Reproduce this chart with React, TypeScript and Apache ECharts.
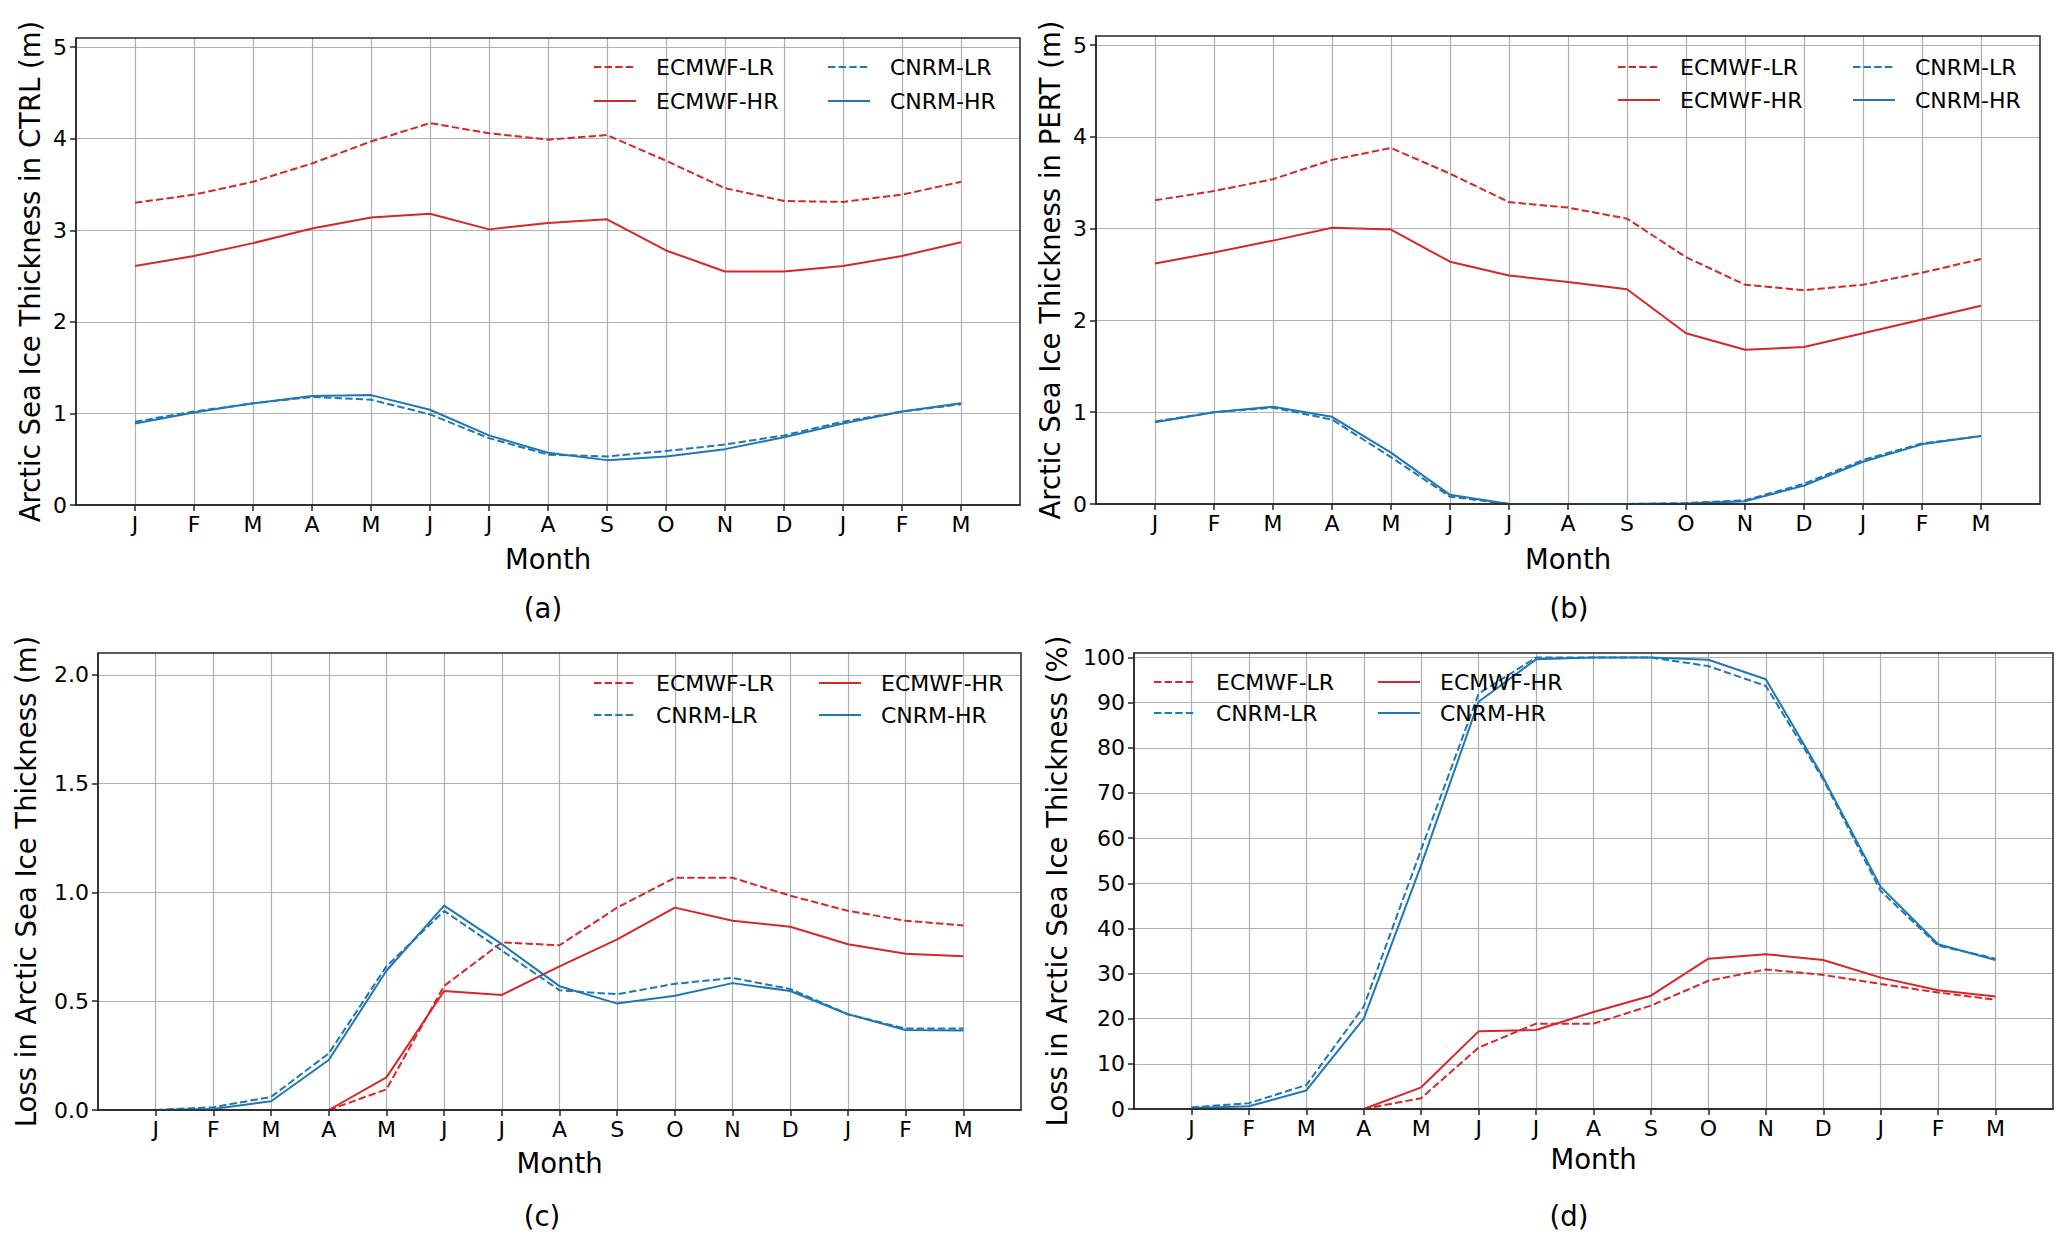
import React, { useEffect, useRef } from 'react';
import * as echarts from 'echarts';

// ---------------- data ----------------
const months = ['J', 'F', 'M', 'A', 'M', 'J', 'J', 'A', 'S', 'O', 'N', 'D', 'J', 'F', 'M'];

// (a) CTRL thickness (m)
const ctrlEcmwfLR = [3.30, 3.39, 3.53, 3.73, 3.97, 4.17, 4.06, 3.99, 4.04, 3.76, 3.46, 3.32, 3.31, 3.39, 3.53];
const ctrlEcmwfHR = [2.61, 2.72, 2.86, 3.02, 3.14, 3.18, 3.01, 3.08, 3.12, 2.78, 2.55, 2.55, 2.61, 2.72, 2.87];
const ctrlCnrmLR = [0.91, 1.02, 1.11, 1.18, 1.15, 0.99, 0.73, 0.55, 0.53, 0.59, 0.66, 0.76, 0.91, 1.02, 1.10];
const ctrlCnrmHR = [0.89, 1.01, 1.11, 1.19, 1.20, 1.04, 0.76, 0.57, 0.49, 0.53, 0.61, 0.74, 0.89, 1.02, 1.11];

// (b) PERT thickness (m)
const pertEcmwfLR = [3.31, 3.41, 3.54, 3.75, 3.88, 3.60, 3.29, 3.23, 3.11, 2.69, 2.39, 2.33, 2.39, 2.52, 2.67];
const pertEcmwfHR = [2.62, 2.74, 2.87, 3.01, 2.99, 2.64, 2.49, 2.42, 2.34, 1.86, 1.68, 1.71, 1.86, 2.01, 2.16];
const pertCnrmLR = [0.90, 1.00, 1.05, 0.92, 0.51, 0.08, 0, 0, 0, 0.01, 0.04, 0.22, 0.48, 0.66, 0.74];
const pertCnrmHR = [0.89, 1.00, 1.06, 0.95, 0.56, 0.10, 0, 0, 0, 0.005, 0.03, 0.20, 0.46, 0.65, 0.74];

// (c) loss in thickness (m)
const lossEcmwfLR = [null, null, null, 0, 0.095, 0.57, 0.77, 0.757, 0.93, 1.067, 1.067, 0.985, 0.915, 0.87, 0.848];
const lossEcmwfHR = [null, null, null, 0, 0.15, 0.547, 0.529, 0.66, 0.784, 0.93, 0.87, 0.842, 0.762, 0.718, 0.707];
const lossCnrmLR = [0, 0.013, 0.06, 0.26, 0.66, 0.915, 0.733, 0.55, 0.532, 0.58, 0.607, 0.556, 0.44, 0.374, 0.374];
const lossCnrmHR = [0, 0.005, 0.04, 0.23, 0.64, 0.939, 0.762, 0.569, 0.489, 0.525, 0.583, 0.547, 0.44, 0.368, 0.365];

// (d) loss in thickness (%)
const pctEcmwfLR = [null, null, null, 0, 2.4, 13.6, 18.9, 18.9, 22.9, 28.4, 30.9, 29.7, 27.7, 25.8, 24.2];
const pctEcmwfHR = [null, null, null, 0, 4.8, 17.2, 17.5, 21.5, 25.1, 33.3, 34.3, 33.0, 29.1, 26.3, 24.9];
const pctCnrmLR = [0.35, 1.3, 5.3, 22.7, 57.5, 92, 100, 100, 100, 98.1, 93.7, 73, 48.3, 36.2, 33.3];
const pctCnrmHR = [0.2, 0.6, 4.1, 20, 54, 90.2, 99.6, 100, 100, 99.5, 95.2, 73.4, 49.2, 36.5, 33];

const ticksAB = [0, 1, 2, 3, 4, 5];
const ticksC = [0, 0.5, 1.0, 1.5, 2.0];
const ticksD = [0, 10, 20, 30, 40, 50, 60, 70, 80, 90, 100];

const yLabels = [
  'Arctic Sea Ice Thickness in CTRL (m)',
  'Arctic Sea Ice Thickness in PERT (m)',
  'Loss in Arctic Sea Ice Thickness (m)',
  'Loss in Arctic Sea Ice Thickness (%)',
];
const captions = ['(a)', '(b)', '(c)', '(d)'];
const NAMES = ['ECMWF-LR', 'ECMWF-HR', 'CNRM-LR', 'CNRM-HR'];

// ---------------- styling / layout ----------------
const RED = '#d62728';
const BLUE = '#1f77b4';
const FONT = 'DejaVu Sans';
const DASH = [7.4, 3.2];

const panels = [
  {
    grid: { left: 76, top: 38, width: 944, height: 467 },
    yMax: 5.1, interval: 1, ticks: ticksAB, fmt: (v: number) => String(v),
    values: [ctrlEcmwfLR, ctrlEcmwfHR, ctrlCnrmLR, ctrlCnrmHR],
    yNameGap: 32, xNameGap: 40,
    legendCols: [{ left: 593, names: ['ECMWF-LR', 'ECMWF-HR'] }, { left: 827, names: ['CNRM-LR', 'CNRM-HR'] }],
    legendY: 67, legendGap: 34,
    caption: { x: 543, y: 608 },
  },
  {
    grid: { left: 1096, top: 36, width: 944, height: 468 },
    yMax: 5.1, interval: 1, ticks: ticksAB, fmt: (v: number) => String(v),
    values: [pertEcmwfLR, pertEcmwfHR, pertCnrmLR, pertCnrmHR],
    yNameGap: 32, xNameGap: 41,
    legendCols: [{ left: 1617, names: ['ECMWF-LR', 'ECMWF-HR'] }, { left: 1852, names: ['CNRM-LR', 'CNRM-HR'] }],
    legendY: 67, legendGap: 33,
    caption: { x: 1569, y: 608 },
  },
  {
    grid: { left: 98, top: 653, width: 923, height: 457 },
    yMax: 2.1, interval: 0.5, ticks: ticksC, fmt: (v: number) => v.toFixed(1),
    values: [lossEcmwfLR, lossEcmwfHR, lossCnrmLR, lossCnrmHR],
    yNameGap: 58, xNameGap: 39,
    legendCols: [{ left: 593, names: ['ECMWF-LR', 'CNRM-LR'] }, { left: 818, names: ['ECMWF-HR', 'CNRM-HR'] }],
    legendY: 683, legendGap: 32,
    caption: { x: 542, y: 1216 },
  },
  {
    grid: { left: 1134, top: 653, width: 919, height: 456 },
    yMax: 101, interval: 10, ticks: ticksD, fmt: (v: number) => String(v),
    values: [pctEcmwfLR, pctEcmwfHR, pctCnrmLR, pctCnrmHR],
    yNameGap: 63, xNameGap: 36,
    legendCols: [{ left: 1153, names: ['ECMWF-LR', 'CNRM-LR'] }, { left: 1377, names: ['ECMWF-HR', 'CNRM-HR'] }],
    legendY: 682, legendGap: 31,
    caption: { x: 1569, y: 1216 },
  },
];

const monthIdx = months.map((_, i) => i);

function buildOption() {
  const grid: any[] = [];
  const xAxis: any[] = [];
  const yAxis: any[] = [];
  const series: any[] = [];
  const legend: any[] = [];
  const graphic: any[] = [];

  panels.forEach((p, pi) => {
    grid.push({ ...p.grid, containLabel: false });
    xAxis.push({
      type: 'value', gridIndex: pi, min: -1, max: 15, interval: 1,
      name: 'Month', nameLocation: 'middle', nameGap: p.xNameGap,
      nameTextStyle: { fontFamily: FONT, fontSize: 27.5, color: '#000' },
      axisLine: { show: true, onZero: false, lineStyle: { color: '#262626', width: 1.5 } },
      axisTick: { show: true, length: 6, customValues: monthIdx, lineStyle: { color: '#262626', width: 1.5 } },
      axisLabel: {
        customValues: monthIdx, margin: 8, fontFamily: FONT, fontSize: 22, color: '#000',
        formatter: (v: number) => (Number.isInteger(v) && v >= 0 && v < months.length ? months[v] : ''),
      },
      splitLine: { show: true, lineStyle: { color: '#b0b0b0', width: 1.2 } },
    });
    yAxis.push({
      type: 'value', gridIndex: pi, min: 0, max: p.yMax, interval: p.interval,
      name: yLabels[pi], nameLocation: 'middle', nameGap: p.yNameGap,
      nameTextStyle: { fontFamily: FONT, fontSize: 27.5, color: '#000' },
      axisLine: { show: true, onZero: false, lineStyle: { color: '#262626', width: 1.5 } },
      axisTick: { show: true, length: 6, customValues: p.ticks, lineStyle: { color: '#262626', width: 1.5 } },
      axisLabel: {
        customValues: p.ticks, margin: 9, fontFamily: FONT, fontSize: 22, color: '#000',
        formatter: (v: number) => (p.ticks.some((t) => Math.abs(t - v) < 1e-9) ? p.fmt(v) : ''),
      },
      splitLine: { show: true, lineStyle: { color: '#b0b0b0', width: 1.2 } },
    });
    p.values.forEach((vals, si) => {
      const name = NAMES[si];
      const isRed = name.startsWith('ECMWF');
      const dashed = name.endsWith('LR');
      series.push({
        type: 'line', name, xAxisIndex: pi, yAxisIndex: pi,
        data: vals.map((v, i) => [i, v]).filter((d) => d[1] !== null),
        showSymbol: false, symbol: 'none', clip: true,
        lineStyle: { color: isRed ? RED : BLUE, width: 2, type: dashed ? DASH : 'solid' },
        itemStyle: { color: isRed ? RED : BLUE },
        emphasis: { disabled: true }, z: 2,
      });
    });
    p.legendCols.forEach((col) => {
      legend.push({
        orient: 'vertical', left: col.left, top: p.legendY - 11, padding: 0,
        itemWidth: 42, itemHeight: 14, itemGap: p.legendGap - 22, selectedMode: false,
        data: col.names,
        itemStyle: { opacity: 0, borderWidth: 0 },
        textStyle: { fontFamily: FONT, fontSize: 22, color: '#000', padding: [0, 0, 0, 15] },
      });
    });
    graphic.push({
      type: 'rect', silent: true, z: 100,
      shape: { x: p.grid.left, y: p.grid.top, width: p.grid.width, height: p.grid.height },
      style: { fill: 'none', stroke: '#262626', lineWidth: 1.5 },
    });
    graphic.push({
      type: 'text', silent: true, x: p.caption.x, y: p.caption.y,
      style: { text: captions[pi], fontFamily: FONT, fontSize: 27.5, fill: '#000', align: 'center', verticalAlign: 'middle' },
    });
  });

  return {
    animation: false,
    backgroundColor: '#fff',
    textStyle: { fontFamily: FONT },
    grid, xAxis, yAxis, series, legend, graphic,
  };
}

export default function App() {
  const ref = useRef<HTMLDivElement>(null);
  useEffect(() => {
    if (!ref.current) return;
    const chart = echarts.init(ref.current, undefined, { renderer: 'svg' });
    chart.setOption(buildOption() as any);
    return () => chart.dispose();
  }, []);
  return (
    <div
      ref={ref}
      style={{ position: 'absolute', left: 0, top: 0, width: 2067, height: 1244, background: '#fff' }}
    />
  );
}
